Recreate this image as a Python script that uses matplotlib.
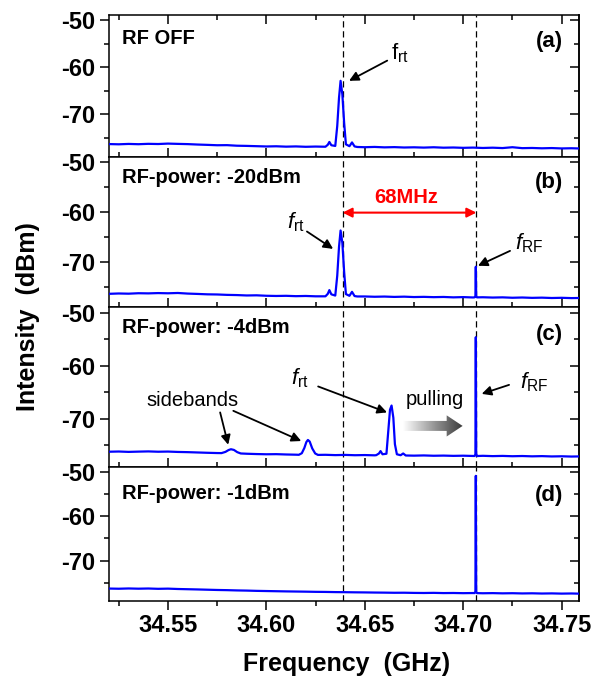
import numpy as np
import matplotlib
matplotlib.use("Agg")
import matplotlib.pyplot as plt
from matplotlib.patches import Polygon
from matplotlib.colors import LinearSegmentedColormap
from matplotlib.ticker import MultipleLocator, FormatStrFormatter

plt.rcParams['font.family'] = ['Liberation Sans', 'DejaVu Sans']
plt.rcParams['axes.unicode_minus'] = False
plt.rcParams['mathtext.fontset'] = 'custom'
plt.rcParams['mathtext.rm'] = 'Liberation Sans'
plt.rcParams['mathtext.it'] = 'Liberation Sans:italic'
plt.rcParams['mathtext.bf'] = 'Liberation Sans:bold'

# ------------------------------------------------------------------
# data (GHz, dBm)
# ------------------------------------------------------------------
freq = [34.520, 34.525, 34.530, 34.535, 34.540, 34.545, 34.550, 34.555, 34.560, 34.565,
        34.570, 34.575, 34.580, 34.585, 34.590, 34.595, 34.600, 34.605, 34.610, 34.615,
        34.620, 34.625, 34.630, 34.635, 34.640, 34.645, 34.650, 34.655, 34.660, 34.665,
        34.670, 34.675, 34.680, 34.685, 34.690, 34.695, 34.700, 34.705, 34.710, 34.715,
        34.720, 34.725, 34.730, 34.735, 34.740, 34.745, 34.750, 34.755, 34.760]

base_a = [-76.35, -76.40, -76.32, -76.38, -76.30, -76.34, -76.25, -76.31, -76.36, -76.45,
          -76.52, -76.60, -76.58, -76.70, -76.74, -76.80, -76.86, -76.82, -76.90, -76.85,
          -76.93, -76.88, -76.95, -76.92, -76.96, -76.97, -77.02, -76.96, -77.05, -77.00,
          -77.08, -77.04, -77.10, -77.03, -77.12, -77.08, -77.15, -77.10, -77.18, -77.12,
          -77.20, -77.02, -77.22, -77.18, -77.25, -77.20, -77.28, -77.24, -77.30]
base_b = [-76.45, -76.38, -76.42, -76.33, -76.36, -76.30, -76.34, -76.28, -76.40, -76.47,
          -76.55, -76.58, -76.66, -76.70, -76.78, -76.75, -76.84, -76.88, -76.85, -76.92,
          -76.88, -76.95, -76.93, -76.97, -76.94, -76.99, -76.98, -77.04, -77.00, -77.07,
          -77.02, -77.10, -77.06, -77.12, -77.08, -77.16, -77.11, -77.18, -77.14, -77.20,
          -77.16, -77.24, -77.19, -77.26, -77.22, -77.29, -77.25, -77.31, -77.28]
base_c = [-76.22, -76.18, -76.25, -76.20, -76.16, -76.22, -76.19, -76.26, -76.30, -76.36,
          -76.42, -76.47, -76.45, -76.55, -76.60, -76.66, -76.70, -76.68, -76.74, -76.78,
          -76.80, -76.83, -76.80, -76.86, -76.82, -76.88, -76.85, -76.90, -76.87, -76.93,
          -76.90, -76.96, -76.92, -76.98, -76.95, -77.00, -76.97, -77.02, -76.99, -77.05,
          -77.01, -77.07, -77.03, -77.09, -77.05, -77.11, -77.08, -77.13, -77.10]
base_d = [-76.30, -76.34, -76.28, -76.33, -76.29, -76.36, -76.32, -76.40, -76.45, -76.50,
          -76.56, -76.62, -76.66, -76.72, -76.76, -76.82, -76.86, -76.90, -76.94, -76.97,
          -77.00, -77.04, -77.06, -77.10, -77.12, -77.15, -77.17, -77.20, -77.22, -77.25,
          -77.24, -77.28, -77.30, -77.27, -77.32, -77.30, -77.34, -77.31, -77.36, -77.33,
          -77.38, -77.35, -77.40, -77.37, -77.42, -77.39, -77.44, -77.41, -77.46]

# round-trip peak f_rt (panels a, b)
rt_f = [34.6300, 34.6312, 34.6320, 34.6330, 34.6350, 34.6360, 34.6369, 34.6377,
        34.6386, 34.6395, 34.6404, 34.6422, 34.6435, 34.6448, 34.6462]
rt_a = [-76.92, -76.50, -75.90, -76.60, -76.75, -72.50, -66.50, -62.90,
        -65.80, -71.80, -76.40, -76.80, -76.00, -76.85, -76.97]
rt_b = [-76.95, -76.45, -75.70, -76.55, -76.80, -72.80, -67.00, -63.70,
        -66.20, -72.00, -76.50, -76.85, -76.05, -76.90, -76.98]

# RF line f_RF (panels b, c, d)
rf_f = [34.7058, 34.7062, 34.7064, 34.7066, 34.7070]
rf_b = [-77.15, -76.90, -71.00, -76.90, -77.16]
rf_c = [-77.02, -76.70, -54.60, -76.60, -77.03]
rf_d = [-77.32, -77.00, -50.90, -77.00, -77.33]

# panel c: sidebands and pulled f_rt
sb1_f = [34.5772, 34.5792, 34.5808, 34.5820, 34.5835, 34.5852, 34.5870]
sb1_c = [-76.48, -76.25, -75.90, -75.75, -75.88, -76.30, -76.55]
sb2_f = [34.6165, 34.6180, 34.6193, 34.6203, 34.6211, 34.6220, 34.6233, 34.6248, 34.6262]
sb2_c = [-76.80, -76.50, -75.50, -74.40, -74.00, -74.30, -75.60, -76.55, -76.82]
prt_f = [34.6558, 34.6572, 34.6580, 34.6590, 34.6610, 34.6620, 34.6628, 34.6636,
         34.6645, 34.6653, 34.6663, 34.6682, 34.6695, 34.6708]
prt_c = [-76.87, -76.55, -76.10, -76.70, -76.60, -72.00, -68.30, -67.50,
         -69.80, -74.80, -76.70, -76.88, -76.55, -76.93]

f_rt_line = 34.6387
f_rf_line = 34.7067


def trace(base, peaks):
    f = np.array(freq)
    v = np.array(base)
    for pf, pv in peaks:
        keep = (f < pf[0]) | (f > pf[-1])
        f = np.concatenate([f[keep], pf])
        v = np.concatenate([v[keep], pv])
    order = np.argsort(f)
    return f[order], v[order]


traces = [
    trace(base_a, [(rt_f, rt_a)]),
    trace(base_b, [(rt_f, rt_b), (rf_f, rf_b)]),
    trace(base_c, [(sb1_f, sb1_c), (sb2_f, sb2_c), (prt_f, prt_c), (rf_f, rf_c)]),
    trace(base_d, [(rf_f, rf_d)]),
]
titles = ['RF OFF', 'RF-power: -20dBm', 'RF-power: -4dBm', 'RF-power: -1dBm']
tags = ['(a)', '(b)', '(c)', '(d)']
title_y = [0.838, 0.86, 0.869, 0.80]
tag_y = [0.81, 0.829, 0.825, 0.79]

# ------------------------------------------------------------------
# figure
# ------------------------------------------------------------------
fig = plt.figure(figsize=(5.92, 6.82), dpi=100)
gs = fig.add_gridspec(4, 1, height_ratios=[142, 150, 160, 134], hspace=0,
                      left=0.184, right=0.9786, top=0.978, bottom=0.1188)
axes = [fig.add_subplot(gs[i]) for i in range(4)]

for i, ax in enumerate(axes):
    f, v = traces[i]
    ax.plot(f, v, color='#0000ff', lw=1.6, zorder=3)
    ax.axvline(f_rt_line, color='k', lw=0.9, ls=(0, (5, 3)), zorder=2)
    ax.axvline(f_rf_line, color='k', lw=0.9, ls=(0, (5, 3)), zorder=2)
    ax.set_xlim(34.520, 34.759)
    ax.set_ylim(-79.1, -48.9)
    ax.set_yticks([-50, -60, -70])
    ax.yaxis.set_minor_locator(MultipleLocator(5))
    ax.xaxis.set_major_locator(MultipleLocator(0.05))
    ax.xaxis.set_minor_locator(MultipleLocator(0.025))
    ax.xaxis.set_major_formatter(FormatStrFormatter('%.2f'))
    for s in ax.spines.values():
        s.set_linewidth(1.1)
    ax.tick_params(axis='y', which='both', direction='out', width=1.1, labelsize=17, pad=3)
    ax.tick_params(axis='y', which='major', length=6.5)
    ax.tick_params(axis='y', which='minor', length=3.4)
    last = (i == 3)
    ax.tick_params(axis='x', which='both', direction='out' if last else 'in', width=1.1,
                   top=(i == 0), bottom=True, labelbottom=last, labelsize=17, pad=3)
    ax.tick_params(axis='x', which='major', length=6.5)
    ax.tick_params(axis='x', which='minor', length=3.4)
    for lab in ax.get_xticklabels() + ax.get_yticklabels():
        lab.set_fontweight('bold')
    # right-hand ticks pointing inwards
    sec = ax.secondary_yaxis('right')
    sec.set_yticks([-50, -60, -70])
    sec.yaxis.set_minor_locator(MultipleLocator(5))
    sec.tick_params(which='both', direction='in', width=1.1, labelright=False)
    sec.tick_params(which='major', length=6.5)
    sec.tick_params(which='minor', length=3.4)
    sec.spines['right'].set_linewidth(1.1)

    ax.text(0.028, title_y[i], titles[i], transform=ax.transAxes, fontsize=14.5,
            fontweight='bold', ha='left', va='center')
    ax.text(0.965, tag_y[i], tags[i], transform=ax.transAxes, fontsize=16,
            fontweight='bold', ha='right', va='center')

arrow = dict(arrowstyle='-|>', color='k', lw=1.3, mutation_scale=14, shrinkA=0, shrinkB=0)
ax_a, ax_b, ax_c, ax_d = axes

# panel (a)
ax_a.text(34.6633, -58.3, r'$\mathrm{f}_{\mathrm{rt}}$', fontsize=16, ha='left', va='baseline')
ax_a.annotate('', xy=(34.6420, -62.9), xytext=(34.6614, -58.6), arrowprops=arrow)

# panel (b)
ax_b.text(34.6710, -57.15, '68MHz', color='red', fontsize=14.5, fontweight='bold',
          ha='center', va='center')
ax_b.annotate('', xy=(f_rf_line, -60.1), xytext=(f_rt_line, -60.1),
              arrowprops=dict(arrowstyle='<|-|>', color='red', lw=1.5, mutation_scale=14,
                              shrinkA=0, shrinkB=0))
ax_b.text(34.6105, -63.25, r'$f_{\mathrm{rt}}$', fontsize=16, ha='left', va='baseline')
ax_b.annotate('', xy=(34.6339, -67.4), xytext=(34.6206, -63.9), arrowprops=arrow)
ax_b.text(34.7264, -67.6, r'$f_{\mathrm{RF}}$', fontsize=16, ha='left', va='baseline')
ax_b.annotate('', xy=(34.7075, -70.8), xytext=(34.7238, -67.8), arrowprops=arrow)

# panel (c)
ax_c.text(34.6126, -63.6, r'$f_{\mathrm{rt}}$', fontsize=16, ha='left', va='baseline')
ax_c.annotate('', xy=(34.6613, -68.8), xytext=(34.6263, -63.9), arrowprops=arrow)
ax_c.text(34.5627, -66.6, 'sidebands', fontsize=14.5, ha='center', va='center')
ax_c.annotate('', xy=(34.5806, -74.9), xytext=(34.5765, -68.8), arrowprops=arrow)
ax_c.annotate('', xy=(34.6177, -74.2), xytext=(34.5832, -68.5), arrowprops=arrow)
ax_c.text(34.6857, -66.45, 'pulling', fontsize=14.5, ha='center', va='center')
ax_c.text(34.7289, -64.2, r'$f_{\mathrm{RF}}$', fontsize=16, ha='left', va='baseline')
ax_c.annotate('', xy=(34.7094, -65.3), xytext=(34.7233, -63.6), arrowprops=arrow)

# gradient "pulling" arrow
x0, xh, xt, yc = 34.6694, 34.6916, 34.6997, -71.35
sh, hh = 0.94, 2.0
verts = [(x0, yc - sh), (xh, yc - sh), (xh, yc - hh), (xt, yc),
         (xh, yc + hh), (xh, yc + sh), (x0, yc + sh)]
poly = Polygon(verts, closed=True, facecolor='none', edgecolor='none',
               transform=ax_c.transData)
ax_c.add_patch(poly)
grad_cmap = LinearSegmentedColormap.from_list('pull', ['#ffffff', '#9a9a9a', '#3a3a3a'])
img = ax_c.imshow(np.linspace(0, 1, 256).reshape(1, -1), cmap=grad_cmap, aspect='auto',
                  extent=[x0, xt, yc - hh, yc + hh], zorder=2)
img.set_clip_path(poly)
ax_c.set_xlim(34.520, 34.759)
ax_c.set_ylim(-79.1, -48.9)

fig.text(0.0465, 0.536, 'Intensity  (dBm)', rotation=90, fontsize=18, fontweight='bold',
         ha='center', va='center')
fig.text(0.585, 0.027, 'Frequency  (GHz)', fontsize=18, fontweight='bold',
         ha='center', va='center')

fig.savefig('out.png', dpi=100)
